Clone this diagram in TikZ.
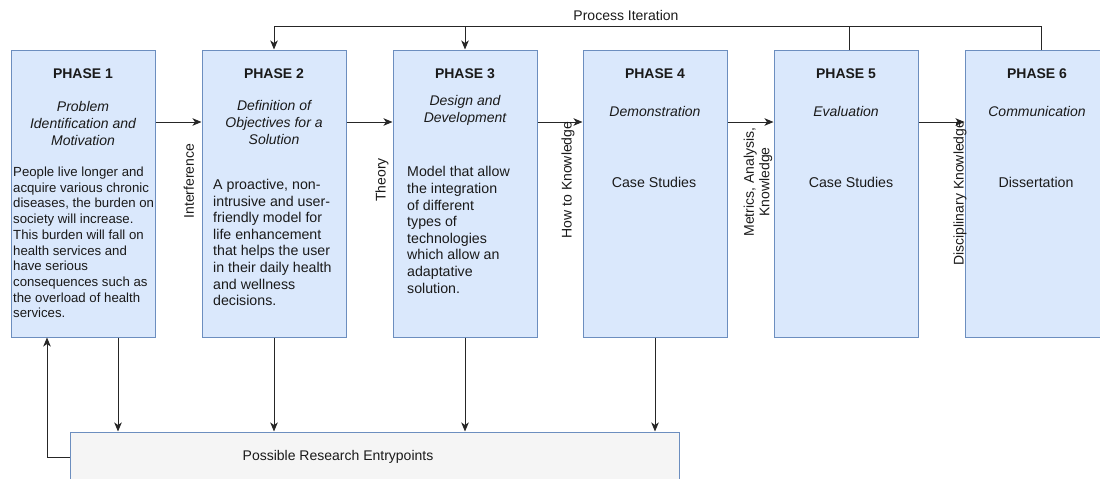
\documentclass[tikz,border=0pt]{standalone}
\usepackage{fontspec}
\setmainfont{Liberation Sans}
\usetikzlibrary{arrows.meta}
\definecolor{phfill}{HTML}{DAE8FC}
\definecolor{phdraw}{HTML}{6C8EBF}
\definecolor{rbfill}{HTML}{F5F5F5}
\definecolor{ink}{HTML}{1A1A1A}
\tikzset{
  phasebox/.style={draw=phdraw, fill=phfill, line width=1pt, minimum width=144pt, minimum height=287pt, inner sep=0pt},
  rbbox/.style={draw=phdraw, fill=rbfill, line width=1pt, minimum width=609pt, minimum height=50pt, inner sep=0pt},
  ttl/.style={font=\fontsize{14}{16.7}\selectfont\bfseries, text=ink, inner sep=0pt},
  sub/.style={font=\fontsize{14}{16.6}\selectfont\itshape, text=ink, align=center, inner sep=0pt},
  body/.style={font=\fontsize{14.2}{16.6}\selectfont, text=ink, align=left, inner sep=0pt, anchor=west},
  bodyc/.style={font=\fontsize{14.2}{16.6}\selectfont, text=ink, inner sep=0pt},
  vlab/.style={font=\fontsize{14}{15.5}\selectfont, text=ink, rotate=90, align=center, inner sep=0pt},
  lab/.style={font=\fontsize{14}{16}\selectfont, text=ink, inner sep=0pt},
  arr/.style={draw=black!85, line width=1pt, -{Stealth[length=9pt,width=7.5pt,inset=2.5pt]}},
  ln/.style={draw=black!85, line width=1pt}
}
\begin{document}
\begin{tikzpicture}[x=1pt,y=-1pt]
\useasboundingbox (0,0) rectangle (1100,479);
\clip (0,0) rectangle (1100,479);

% phase boxes
\node[phasebox] (p1) at (83,193.5) {};
\node[phasebox] (p2) at (274,193.5) {};
\node[phasebox] (p3) at (465,193.5) {};
\node[phasebox] (p4) at (655,193.5) {};
\node[phasebox] (p5) at (846,193.5) {};
\node[phasebox] (p6) at (1037,193.5) {};

% bottom box
\node[rbbox] (rb) at (374.5,457) {};
\node[lab] (rbt) at (338,457) {Possible Research Entrypoints};

% titles
\node[ttl] (t1) at (83,73.5) {PHASE 1};
\node[ttl] (t2) at (274,73.5) {PHASE 2};
\node[ttl] (t3) at (465,73.5) {PHASE 3};
\node[ttl] (t4) at (655,73.5) {PHASE 4};
\node[ttl] (t5) at (846,73.5) {PHASE 5};
\node[ttl] (t6) at (1037,73.5) {PHASE 6};

% subtitles
\node[sub] (s1) at (83,123.5) {Problem\\Identification and\\Motivation};
\node[sub] (s2) at (274,122.5) {Definition of\\Objectives for a\\Solution};
\node[sub] (s3) at (465,110.5) {Design and\\Development};
\node[sub] (s4) at (655,111) {Demonstration};
\node[sub] (s5) at (846,111) {Evaluation};
\node[sub] (s6) at (1037,111) {Communication};

% body texts
\node[body, font=\fontsize{13.2}{15.7}\selectfont] (b1) at (13,242.5) {People live longer and\\acquire various chronic\\diseases, the burden on\\society will increase.\\This burden will fall on\\health services and\\have serious\\consequences such as\\the overload of health\\services.};
\node[body] (b2) at (213,242.5) {A proactive, non-\\intrusive and user-\\friendly model for\\life enhancement\\that helps the user\\in their daily health\\and wellness\\decisions.};
\node[body] (b3) at (407,230) {Model that allow\\the integration\\of different\\types of\\technologies\\which allow an\\adaptative\\solution.};
\node[bodyc] (b4) at (654,182) {Case Studies};
\node[bodyc] (b5) at (851,182) {Case Studies};
\node[bodyc] (b6) at (1036,182) {Dissertation};

% horizontal flow
\coordinate (ya) at (0,122);
\draw[arr] (p1.east |- ya) -- (p2.west |- ya);
\draw[arr] (p2.east |- ya) -- (p3.west |- ya);
\draw[arr] (p3.east |- ya) -- (p4.west |- ya);
\draw[arr] (p4.east |- ya) -- (p5.west |- ya);
\draw[arr] (p5.east |- ya) -- (p6.west |- ya);

% vertical edge labels
\node[vlab] (l12) at (189,181) {Interference};
\node[vlab] (l23) at (382,180) {Theory};
\node[vlab] (l34) at (568,180) {How to Knowledge};
\node[vlab] (l45) at (758,182) {Metrics, Analysis,\\Knowledge};
\node[vlab] (l56) at (960,193) {Disciplinary Knowledge};

% process iteration
\coordinate (top) at (0,26);
\coordinate (p6n) at (1041,50);
\coordinate (p5n) at (849,50);
\node[lab] (pit) at (626,15) {Process Iteration};
\draw[arr] (p6n) -- (p6n |- top) -- (p2.north |- top) -- (p2.north);
\draw[ln] (p5n) -- (p5n |- top);
\draw[arr] (p3.north |- top) -- (p3.north);

% down to research entrypoints
\draw[arr] ([xshift=35pt]p1.south) -- ([xshift=35pt]p1.south |- rb.north);
\draw[arr] (p2.south) -- (p2.south |- rb.north);
\draw[arr] (p3.south) -- (p3.south |- rb.north);
\draw[arr] (p4.south) -- (p4.south |- rb.north);

% feedback to phase 1
\coordinate (fb) at (47,457);
\draw[arr] (rb.west) -- (fb) -- (fb |- p1.south);
\end{tikzpicture}
\end{document}
